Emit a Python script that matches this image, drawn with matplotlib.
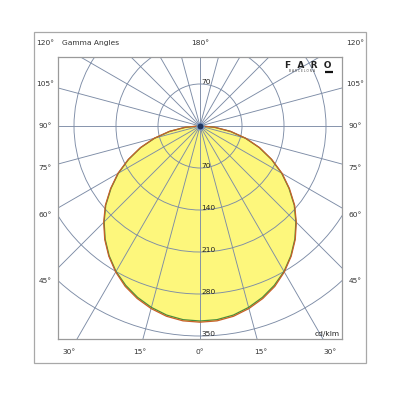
import numpy as np
import matplotlib
matplotlib.use("Agg")
import matplotlib.pyplot as plt
from matplotlib.patches import Rectangle, Circle

# ---- data (cd/klm) ----
gamma_deg = [0, 5, 10, 15, 20, 25, 30, 35, 40, 45, 50, 55, 60, 65, 70, 75, 80, 85, 90]
c0_c180 = [327, 326, 322, 315, 306, 295, 281, 265, 247, 227, 206, 182, 158, 132, 106, 79, 52, 25, 3]
c90_c270 = [325, 324, 320, 313, 304, 293, 280, 264, 246, 226, 205, 181, 157, 131, 105, 78, 51, 24, 2]
ring_values = [70, 140, 210, 280, 350]
radial_step = 15
side_labels = [45, 60, 75, 90, 105, 120]
bottom_labels = [30, 15, 0]
unit_label = "cd/klm"

# ---- figure ----
fig = plt.figure(figsize=(4, 4), dpi=100)
fig.patch.set_facecolor("white")

# outer frame
fig.add_artist(Rectangle((34 / 400, 1 - 363 / 400), 332 / 400, 331 / 400,
                         transform=fig.transFigure, fill=False,
                         edgecolor="#a8a8a8", lw=0.9))

# px -> data scale 0.6 px per cd/klm
ax = fig.add_axes([58 / 400, 1 - 339 / 400, 284 / 400, 282 / 400])
ax.set_xlim(-142 / 0.6, 142 / 0.6)
ax.set_ylim(-213 / 0.6, 69 / 0.6)
ax.set_aspect("equal", adjustable="box")
ax.set_xticks([])
ax.set_yticks([])
for s in ax.spines.values():
    s.set_color("#9a9a9a")
    s.set_linewidth(0.9)

grid_col = "#7d8ca6"

def curve(vals):
    g = np.radians(np.array(gamma_deg, dtype=float))
    v = np.array(vals, dtype=float)
    gg = np.concatenate([-g[::-1], g[1:]])
    vv = np.concatenate([v[::-1], v[1:]])
    return vv * np.sin(gg), -vv * np.cos(gg)

xr, yr = curve(c0_c180)
xg, yg = curve(c90_c270)
ax.fill(xr, yr, color="#fdf77c", zorder=1, lw=0)

# rings
for rv in ring_values:
    ax.add_patch(Circle((0, 0), rv, fill=False, edgecolor=grid_col, lw=0.65, zorder=2))
# radial lines
for a in range(0, 360, radial_step):
    t = np.radians(a)
    ax.plot([0, 1000 * np.sin(t)], [0, -1000 * np.cos(t)], color=grid_col, lw=0.65, zorder=2)

ax.plot(xg, yg, color="#4a8f3c", lw=0.9, zorder=3)
ax.plot(xr, yr, color="#c8602a", lw=0.9, zorder=4)

# center dot
ax.scatter([0], [0], s=26, color="#1f3560", edgecolors="#7f9cc6", linewidths=0.8, zorder=5)

fs = 5.4
tc = "#333333"
# ring labels
for rv in ring_values:
    ax.text(2, -rv - 1, str(rv), fontsize=fs, color="#222222", ha="left", va="bottom", zorder=6)
ax.text(2, ring_values[0] - 1, str(ring_values[0]), fontsize=fs, color="#222222",
        ha="left", va="bottom", zorder=6)

# angle labels around
xcol = 155 / 0.6
ytop = 83 / 0.6
ybot = -226 / 0.6
for g in side_labels:
    y = -xcol / np.tan(np.radians(g))
    y = min(y, ytop)
    for sgn in (-1, 1):
        ax.text(sgn * xcol, y, f"{g}°", fontsize=fs, color=tc, ha="center", va="center", clip_on=False)
for g in bottom_labels:
    x = -ybot * np.tan(np.radians(g))
    for sgn in ((-1, 1) if g else (1,)):
        ax.text(sgn * x, ybot, f"{g}°", fontsize=fs, color=tc, ha="center", va="center", clip_on=False)
ax.text(0, ytop, "180°", fontsize=fs, color=tc, ha="center", va="center", clip_on=False)
ax.text(-138 / 0.6, ytop, "Gamma Angles", fontsize=fs, color=tc, ha="left", va="center", clip_on=False)
ax.text(140 / 0.6, -211 / 0.6, unit_label, fontsize=fs, color="#222222", ha="right", va="bottom", zorder=6)

# logo
ax.text(108 / 0.6, 60 / 0.6, "F  A  R  O", fontsize=6.5, fontweight="bold", color="#222222",
        ha="center", va="center", zorder=6)
ax.text(102 / 0.6, 54.5 / 0.6, "B A R C E L O N A", fontsize=2.2, color="#444444",
        ha="center", va="center", zorder=6)
ax.plot([125 / 0.6, 133 / 0.6], [54.5 / 0.6, 54.5 / 0.6], color="#111111", lw=1.6, zorder=6,
        solid_capstyle="butt")

fig.savefig("out.png", dpi=100, facecolor="white")
